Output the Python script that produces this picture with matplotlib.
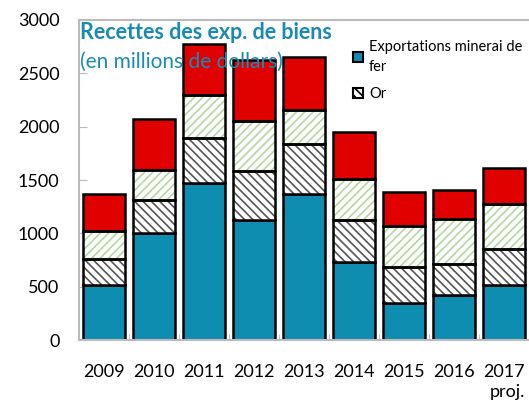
import matplotlib.pyplot as plt
from matplotlib.patches import Patch
import numpy as np

plt.rcParams['font.family'] = ['Lato', 'DejaVu Sans']
plt.rcParams['hatch.linewidth'] = 1.2

years = ["2009", "2010", "2011", "2012", "2013", "2014", "2015", "2016", "2017\nproj."]
fer = [520, 1000, 1470, 1130, 1370, 730, 350, 420, 515]
orr = [240, 310, 420, 450, 470, 400, 340, 290, 340]
autres = [260, 280, 410, 470, 320, 380, 375, 425, 425]
reste = [350, 480, 470, 570, 490, 440, 325, 275, 330]

fig = plt.figure(figsize=(5.29, 4.05), dpi=100)
ax = fig.add_axes([0.149, 0.160, 0.851, 0.791])

x = np.arange(len(years))
w = 0.84
b1 = np.array(fer)
b2 = b1 + np.array(orr)
b3 = b2 + np.array(autres)

ax.bar(x, fer, w, color='#0e8db0', edgecolor='black', linewidth=1.8, zorder=2)
ax.bar(x, orr, w, bottom=b1, color='white', edgecolor='#555555', hatch='\\\\\\\\', linewidth=0, zorder=2)
ax.bar(x, orr, w, bottom=b1, fill=False, edgecolor='black', linewidth=1.8, zorder=3)
ax.bar(x, autres, w, bottom=b2, color='white', edgecolor='#b5d8a0', hatch='////', linewidth=0, zorder=2)
ax.bar(x, autres, w, bottom=b2, fill=False, edgecolor='black', linewidth=1.8, zorder=3)
ax.bar(x, reste, w, bottom=b3, color='#e00000', edgecolor='black', linewidth=1.8, zorder=2)

ax.set_xlim(-0.5, 8.5)
ax.set_ylim(0, 3000)
ax.set_yticks(range(0, 3001, 500))
ax.set_xticks(x)
ax.set_xticklabels(years, multialignment='right', linespacing=1.3)
ax.set_xticks(np.arange(-0.5, 9, 1), minor=True)
ax.tick_params(axis='x', which='major', length=0, pad=17, labelsize=13, colors='black')
ax.tick_params(axis='x', which='minor', length=4, direction='in', color='#bbbbbb')
ax.tick_params(axis='y', length=6, direction='in', color='#bbbbbb', labelsize=13, pad=14)

for s in ['left', 'bottom', 'top']:
    ax.spines[s].set_color('#bbbbbb')
    ax.spines[s].set_linewidth(1.5)
ax.spines['right'].set_visible(False)

ax.text(0.003, 0.96, "Recettes des exp. de biens", transform=ax.transAxes,
        color='#1a8ab4', fontsize=15.5, fontweight='bold', va='center', zorder=5)
ax.text(0.003, 0.87, "(en millions de dollars)", transform=ax.transAxes,
        color='#1a8ab4', fontsize=15, va='center', zorder=5)

handles = [Patch(facecolor='#0e8db0', edgecolor='black', linewidth=1.5),
           Patch(facecolor='white', edgecolor='black', hatch='\\\\\\\\', linewidth=1.5)]
leg = ax.legend(handles, ["Exportations minerai de\nfer", "Or"],
                loc='upper left', bbox_to_anchor=(0.596, 0.955), frameon=False,
                fontsize=10.5, handlelength=0.7, handleheight=0.7, handletextpad=0.4,
                labelspacing=0.9, borderaxespad=0)
for t in leg.get_texts():
    t.set_linespacing(1.5)
leg.set_zorder(5)

plt.savefig('out.png', dpi=100)
